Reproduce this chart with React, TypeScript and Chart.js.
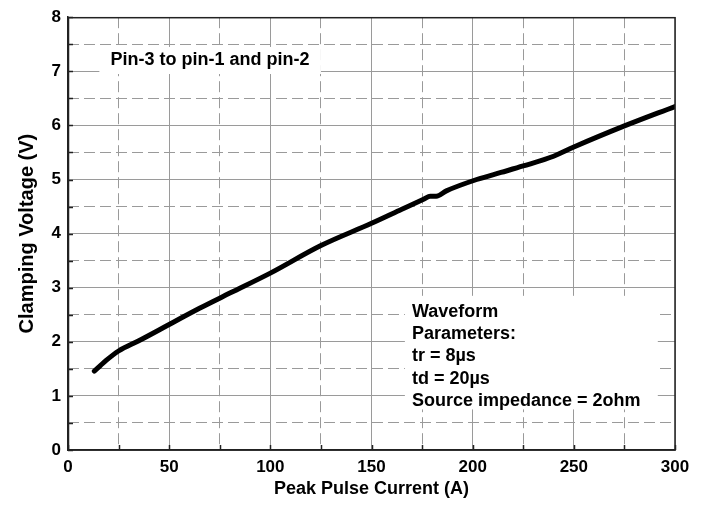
import React, { useEffect, useRef } from "react";
import { Chart, registerables } from "chart.js";

Chart.register(...registerables);

const currentA = [13, 16, 19, 25, 35, 50, 65, 80, 100, 125, 150, 165, 176, 179, 182, 187, 202, 214, 225, 240, 250, 275, 300];
const clampV = [1.46, 1.56, 1.66, 1.83, 2.02, 2.32, 2.62, 2.9, 3.27, 3.78, 4.19, 4.45, 4.64, 4.69, 4.69, 4.79, 5.0, 5.13, 5.25, 5.43, 5.6, 5.99, 6.35];
const xTickStep = 50;
const xMinorStep = 25;
const yTickStep = 1;
const yMinorStep = 0.5;
const xTitle = "Peak Pulse Current (A)";
const yTitle = "Clamping Voltage (V)";
const noteTop = ["Pin-3 to pin-1 and pin-2"];
const noteWave = ["Waveform", "Parameters:", "tr = 8\u00b5s", "td = 20\u00b5s", "Source impedance = 2ohm"];

const FONT = "'Liberation Sans', Arial, Helvetica, sans-serif";
const GRID = "#9a9a9a";
const FRAME = "#222";

const annotationPlugin = {
  id: "notes",
  beforeDatasetsDraw(chart: any) {
    const { ctx, scales } = chart;
    const x = scales.x;
    const y = scales.y;
    ctx.save();
    ctx.font = `bold 18px ${FONT}`;
    ctx.textBaseline = "middle";
    ctx.textAlign = "left";
    {
      const bx0 = x.getPixelForValue(15.5);
      const bx1 = x.getPixelForValue(125);
      const by0 = y.getPixelForValue(7.45);
      const by1 = y.getPixelForValue(6.95);
      ctx.fillStyle = "#fff";
      ctx.fillRect(bx0, by0, bx1 - bx0, by1 - by0);
      ctx.fillStyle = "#000";
      ctx.fillText(noteTop[0], x.getPixelForValue(21), y.getPixelForValue(7.2));
    }
    {
      const bx0 = x.getPixelForValue(166.5);
      const bx1 = x.getPixelForValue(291.5);
      const by0 = y.getPixelForValue(2.85);
      const by1 = y.getPixelForValue(0.75);
      ctx.fillStyle = "#fff";
      ctx.fillRect(bx0, by0, bx1 - bx0, by1 - by0);
      ctx.fillStyle = "#000";
      const tx = x.getPixelForValue(170);
      const ty0 = y.getPixelForValue(2.55);
      const step = y.getPixelForValue(0) - y.getPixelForValue(0.41);
      noteWave.forEach((s, i) => ctx.fillText(s, tx, ty0 + i * step));
    }
    // inward tick marks on left and bottom axes
    const { chartArea } = chart;
    ctx.strokeStyle = FRAME;
    ctx.lineWidth = 1.5;
    ctx.beginPath();
    scales.yMinor.ticks.forEach((t: any) => {
      const py = Math.round(scales.yMinor.getPixelForValue(t.value)) + 0.5;
      ctx.moveTo(chartArea.left, py);
      ctx.lineTo(chartArea.left + 5, py);
    });
    scales.xMinor.ticks.forEach((t: any) => {
      const px = Math.round(scales.xMinor.getPixelForValue(t.value)) + 0.5;
      ctx.moveTo(px, chartArea.bottom);
      ctx.lineTo(px, chartArea.bottom - 5);
    });
    ctx.stroke();
    ctx.restore();
  },
  afterDraw(chart: any) {
    const { ctx, chartArea } = chart;
    ctx.save();
    ctx.strokeStyle = FRAME;
    ctx.lineWidth = 1.5;
    ctx.strokeRect(chartArea.left + 0.5, chartArea.top + 0.5, chartArea.right - chartArea.left - 0.5, chartArea.bottom - chartArea.top - 0.5);
    ctx.restore();
  },
};

export default function App() {
  const ref = useRef<HTMLCanvasElement | null>(null);
  useEffect(() => {
    if (!ref.current) return;
    const chart = new Chart(ref.current, {
      type: "line",
      data: {
        datasets: [
          {
            data: currentA.map((v, i) => ({ x: v, y: clampV[i] })),
            borderColor: "#000",
            borderWidth: 5,
            pointRadius: 0,
            cubicInterpolationMode: "monotone",
            borderCapStyle: "round",
            borderJoinStyle: "round",
            fill: false,
          },
        ],
      },
      options: {
        animation: false,
        responsive: true,
        maintainAspectRatio: false,
        layout: { padding: { top: 13, right: 32, left: 0, bottom: 0 } },
        plugins: { legend: { display: false }, tooltip: { enabled: false } },
        scales: {
          x: {
            type: "linear",
            position: "bottom",
            min: 0,
            max: 300,
            ticks: { stepSize: xTickStep, color: "#000", font: { family: FONT, size: 17, weight: "bold" }, padding: 7, maxRotation: 0 },
            grid: { color: GRID, lineWidth: 1, drawTicks: false },
            border: { display: true, color: FRAME, width: 1.5 },
            title: { display: true, text: xTitle, color: "#000", font: { family: FONT, size: 18, weight: "bold" }, padding: { top: 0, bottom: 20 } },
            afterFit: (s: any) => { s.height = 70; },
          },
          xMinor: {
            type: "linear",
            position: "bottom",
            min: 0,
            max: 300,
            ticks: { stepSize: xMinorStep, display: false },
            grid: { color: (c: any) => (c.tick && c.tick.value % xTickStep === 0 ? "rgba(0,0,0,0)" : GRID), lineWidth: 1, drawTicks: false },
            border: { display: false, dash: [11, 5] },
            afterFit: (s: any) => { s.height = 0; },
          },
          y: {
            type: "linear",
            position: "left",
            min: 0,
            max: 8,
            ticks: { stepSize: yTickStep, color: "#000", font: { family: FONT, size: 17, weight: "bold" }, padding: 7 },
            grid: { color: GRID, lineWidth: 1, drawTicks: false },
            border: { display: true, color: FRAME, width: 1.5 },
            title: { display: true, text: yTitle, color: "#000", font: { family: FONT, size: 20, weight: "bold" }, padding: { top: 15, bottom: 0 } },
            afterFit: (s: any) => { s.width = 68; },
          },
          yMinor: {
            type: "linear",
            position: "left",
            min: 0,
            max: 8,
            ticks: { stepSize: yMinorStep, display: false },
            grid: { color: (c: any) => (c.tick && c.tick.value % yTickStep === 0 ? "rgba(0,0,0,0)" : GRID), lineWidth: 1, drawTicks: false },
            border: { display: false, dash: [11, 5] },
            afterFit: (s: any) => { s.width = 0; },
          },
        },
      } as any,
      plugins: [annotationPlugin],
    });
    return () => chart.destroy();
  }, []);
  return (
    <div style={{ position: "absolute", left: 0, top: 0, width: 707, height: 520, background: "#fff" }}>
      <canvas ref={ref} />
    </div>
  );
}
